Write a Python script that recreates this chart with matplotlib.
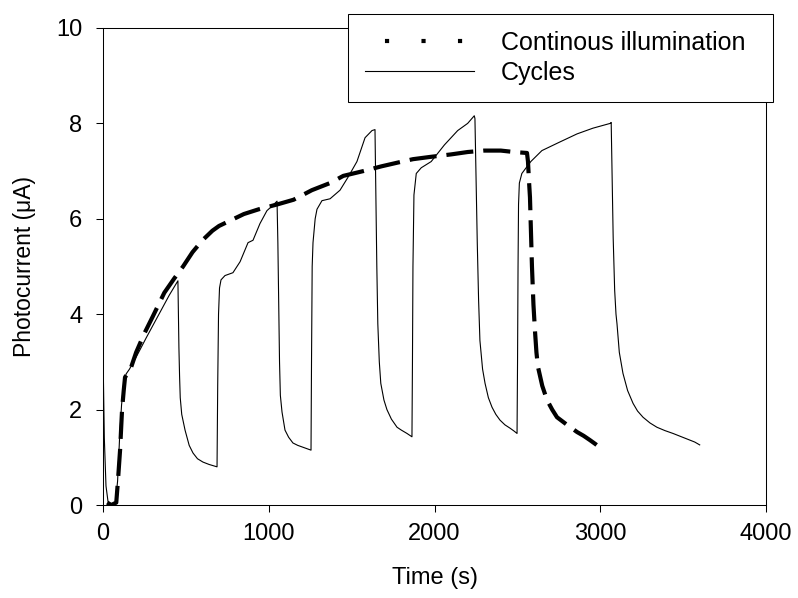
import matplotlib
matplotlib.use("Agg")
import matplotlib.pyplot as plt
from matplotlib.lines import Line2D

plt.rcParams['font.family'] = ['Liberation Sans', 'DejaVu Sans']

# continuous illumination
cont_t = [25, 50, 80, 90, 103, 115, 125, 133, 163, 200, 250, 300, 370, 430, 483,
          540, 600, 660, 700, 760, 850, 940, 1050, 1150, 1260, 1370, 1450, 1570,
          1680, 1780, 1870, 1980, 2100, 2200, 2300, 2400, 2480, 2558, 2564, 2570,
          2576, 2588, 2597, 2606, 2615, 2624, 2650, 2679, 2710, 2739, 2800, 2860,
          2900, 2938, 2970, 3000]
cont_y = [0.05, 0.0, 0.05, 0.5, 1.15, 2.0, 2.4, 2.68, 2.82, 3.2, 3.6, 3.95, 4.45,
          4.75, 5.0, 5.3, 5.55, 5.75, 5.85, 5.95, 6.1, 6.2, 6.3, 6.4, 6.6, 6.75,
          6.9, 7.0, 7.1, 7.18, 7.25, 7.3, 7.35, 7.4, 7.43, 7.43, 7.4, 7.38, 7.2,
          6.8, 6.45, 5.0, 4.2, 3.66, 3.2, 2.9, 2.5, 2.2, 2.0, 1.84, 1.68, 1.53,
          1.45, 1.36, 1.28, 1.2]

# light on/off cycles
cyc_t = [0, 8, 18, 30, 50, 75, 88, 100, 112, 125, 140, 160, 200, 260, 330, 400, 452,
         455, 458, 462, 466, 475, 495, 520, 543, 570, 603, 640, 688,
         692, 697, 703, 712, 736, 784, 827, 875, 905, 947, 989, 1030, 1050,
         1055, 1060, 1065, 1070, 1080, 1098, 1120, 1146, 1175, 1207, 1230, 1255,
         1258, 1262, 1267, 1280, 1291, 1321, 1370, 1430, 1478, 1532, 1581, 1623, 1641,
         1646, 1652, 1658, 1667, 1676, 1695, 1713, 1740, 1774, 1800, 1834, 1864,
         1867, 1870, 1876, 1890, 1920, 1980, 2060, 2140, 2200, 2240,
         2244, 2250, 2258, 2266, 2274, 2290, 2305, 2325, 2347, 2370, 2395, 2425, 2456, 2480, 2498,
         2501, 2504, 2507, 2512, 2527, 2581, 2648, 2750, 2860, 2956, 3060, 3066,
         3071, 3078, 3087, 3095, 3101, 3115, 3137, 3165, 3198, 3225, 3258, 3300, 3342,
         3390, 3439, 3490, 3541, 3570, 3600]
cyc_y = [3.2, 1.4, 0.4, 0.08, 0.0, 0.05, 0.5, 1.4, 2.1, 2.55, 2.75, 2.85, 3.1, 3.5, 3.95, 4.4, 4.7,
         4.0, 3.3, 2.7, 2.25, 1.9, 1.57, 1.25, 1.09, 0.97, 0.9, 0.85, 0.8,
         2.5, 4.0, 4.55, 4.72, 4.81, 4.87, 5.1, 5.5, 5.55, 5.9, 6.17, 6.3, 6.37,
         5.5, 4.3, 3.0, 2.3, 1.95, 1.57, 1.42, 1.3, 1.25, 1.21, 1.18, 1.15,
         3.0, 5.0, 5.5, 6.0, 6.2, 6.38, 6.42, 6.6, 6.87, 7.2, 7.7, 7.85, 7.87,
         6.5, 5.0, 3.8, 3.0, 2.55, 2.2, 2.0, 1.8, 1.63, 1.57, 1.5, 1.43,
         3.0, 5.0, 6.5, 6.95, 7.07, 7.2, 7.55, 7.85, 8.0, 8.16,
         8.1, 7.0, 5.5, 4.3, 3.45, 2.85, 2.55, 2.25, 2.05, 1.9, 1.78, 1.68, 1.61, 1.55, 1.5,
         3.0, 5.0, 6.3, 6.75, 6.95, 7.2, 7.43, 7.6, 7.78, 7.9, 8.0, 8.02,
         7.0, 5.6, 4.5, 4.0, 3.8, 3.2, 2.76, 2.4, 2.13, 1.97, 1.84, 1.72, 1.63,
         1.56, 1.5, 1.43, 1.36, 1.32, 1.26]

fig = plt.figure(figsize=(7.98, 5.98), dpi=100)
ax = fig.add_axes([103/798, 93/598, 663/798, 477/598])

ax.plot(cyc_t, cyc_y, color='black', lw=0.8)
ax.plot(cont_t, cont_y, color='black', lw=3, linestyle=(0, (6.5, 2.4)))

ax.set_xlim(0, 4000)
ax.set_ylim(0, 10)
ax.set_xticks([0, 1000, 2000, 3000, 4000])
ax.set_yticks([0, 2, 4, 6, 8, 10])
ax.tick_params(direction='out', length=5, width=0.75, labelsize=17,
               top=False, right=False)
ax.tick_params(axis='x', pad=8)
ax.tick_params(axis='y', pad=10)
for s in ax.spines.values():
    s.set_linewidth(0.75)

ax.set_xlabel('Time (s)', fontsize=17, labelpad=16)
ax.set_ylabel('Photocurrent (μA)', fontsize=16.5, labelpad=14)

h_cont = Line2D([], [], color='black', lw=3, linestyle=(3.97, (1, 7.76)))
h_cyc = Line2D([], [], color='black', lw=0.8)
leg = fig.legend([h_cont, h_cyc], ['Continous illumination', 'Cycles'],
                 loc='upper left', mode='expand',
                 bbox_to_anchor=(348/798, 1 - 101/598, 425/798, 87/598),
                 bbox_transform=fig.transFigure, borderaxespad=0,
                 fontsize=18, handlelength=4.36, handletextpad=1.08,
                 borderpad=0.68, labelspacing=0.23, fancybox=False,
                 framealpha=1, edgecolor='black')
leg.get_frame().set_linewidth(0.75)

plt.savefig('out.png', dpi=100)
